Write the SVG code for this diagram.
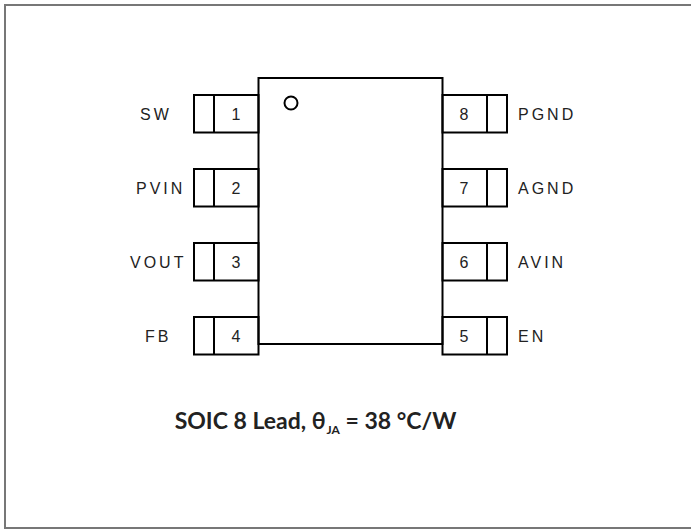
<svg xmlns="http://www.w3.org/2000/svg" width="691" height="529" viewBox="0 0 691 529">
<style>
.ln{fill:none;stroke:#000;stroke-width:2}
.lbl{font-family:"Liberation Sans",Arial,sans-serif;font-size:16px;letter-spacing:3px;fill:#222}
.num{font-family:"Liberation Sans",Arial,sans-serif;font-size:16px;fill:#222;text-anchor:middle}
.cap{font-family:Lato,"Open Sans","Liberation Sans",sans-serif;font-weight:bold;font-size:23px;fill:#222}
</style>
<rect x="5" y="5" width="700" height="523" fill="#fff" stroke="#777" stroke-width="2"/>
<g id="chip">
<rect class="ln" x="258.5" y="78" width="184" height="266" fill="#fff"/>
<circle cx="291" cy="103" r="6.5" class="ln" stroke-width="1.3"/>
</g>
<g id="pin1"><rect class="ln" x="194" y="95" width="64.5" height="37.5"/><line class="ln" x1="214" y1="95" x2="214" y2="132.5"/><text class="num" x="236" y="120">1</text><text class="lbl" x="140" y="120">SW</text></g>
<g id="pin2"><rect class="ln" x="194" y="169" width="64.5" height="37.5"/><line class="ln" x1="214" y1="169" x2="214" y2="206.5"/><text class="num" x="236" y="194">2</text><text class="lbl" x="136" y="194">PVIN</text></g>
<g id="pin3"><rect class="ln" x="194" y="243" width="64.5" height="37.5"/><line class="ln" x1="214" y1="243" x2="214" y2="280.5"/><text class="num" x="236" y="268">3</text><text class="lbl" x="130" y="268">VOUT</text></g>
<g id="pin4"><rect class="ln" x="194" y="317" width="64.5" height="37.5"/><line class="ln" x1="214" y1="317" x2="214" y2="354.5"/><text class="num" x="236" y="342">4</text><text class="lbl" x="145" y="342">FB</text></g>
<g id="pin8"><rect class="ln" x="442.5" y="95" width="64.5" height="37.5"/><line class="ln" x1="487" y1="95" x2="487" y2="132.5"/><text class="num" x="464" y="120">8</text><text class="lbl" x="518" y="120">PGND</text></g>
<g id="pin7"><rect class="ln" x="442.5" y="169" width="64.5" height="37.5"/><line class="ln" x1="487" y1="169" x2="487" y2="206.5"/><text class="num" x="464" y="194">7</text><text class="lbl" x="518" y="194">AGND</text></g>
<g id="pin6"><rect class="ln" x="442.5" y="243" width="64.5" height="37.5"/><line class="ln" x1="487" y1="243" x2="487" y2="280.5"/><text class="num" x="464" y="268">6</text><text class="lbl" x="518" y="268">AVIN</text></g>
<g id="pin5"><rect class="ln" x="442.5" y="317" width="64.5" height="37.5"/><line class="ln" x1="487" y1="317" x2="487" y2="354.5"/><text class="num" x="464" y="342">5</text><text class="lbl" x="518" y="342">EN</text></g>
<g id="connectors"/>
<g id="caption"><text class="cap" x="315.5" y="429" text-anchor="middle">SOIC 8 Lead, θ<tspan font-size="12" dx="1" dy="5">JA</tspan><tspan dy="-5"> = 38 °C/W</tspan></text></g>
</svg>
